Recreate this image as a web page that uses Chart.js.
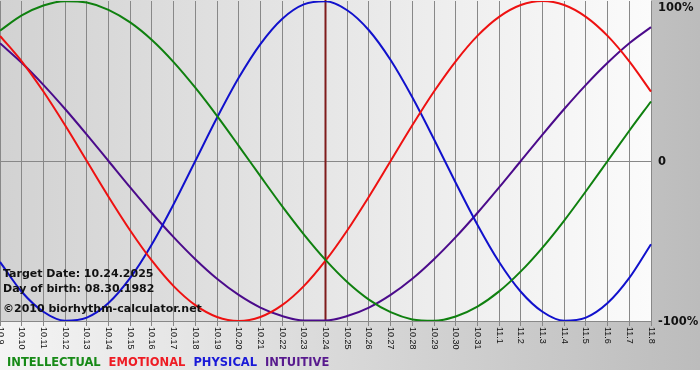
<!DOCTYPE html>
<html>
<head>
<meta charset="utf-8">
<script src="https://cdn.jsdelivr.net/npm/chart.js@4.4.1/dist/chart.umd.min.js"></script>
<style>
html, body { margin: 0; padding: 0; background: #fff; }
#wrap { width: 700px; height: 380px; }
</style>
</head>
<body>
<div id="wrap"><canvas id="bio"></canvas></div>
<script>
// dates shown on the x axis
const days = ['10.9','10.10','10.11','10.12','10.13','10.14','10.15','10.16','10.17','10.18',
  '10.19','10.20','10.21','10.22','10.23','10.24','10.25','10.26','10.27','10.28','10.29',
  '10.30','10.31','11.1','11.2','11.3','11.4','11.5','11.6','11.7','11.8'];

// cycle values in percent, one per day
const intellectual = [81.5, 91.0, 97.2, 99.9, 99.0, 94.5, 86.6, 75.6, 61.8, 45.8, 28.2, 9.5,
  -9.5, -28.2, -45.8, -61.8, -75.6, -86.6, -94.5, -99.0, -99.9, -97.2, -91.0, -81.5, -69.0,
  -54.1, -37.2, -18.9, 0, 18.9, 37.2];
const emotional = [78.2, 62.3, 43.4, 22.3, 0, -22.3, -43.4, -62.3, -78.2, -90.1, -97.5, -100,
  -97.5, -90.1, -78.2, -62.3, -43.4, -22.3, 0, 22.3, 43.4, 62.3, 78.2, 90.1, 97.5, 100,
  97.5, 90.1, 78.2, 62.3, 43.4];
const physical = [-63.1, -81.7, -94.2, -99.8, -97.9, -88.8, -73.1, -52.0, -27.0, 0, 27.0,
  52.0, 73.1, 88.8, 97.9, 99.8, 94.2, 81.7, 63.1, 39.8, 13.6, -13.6, -39.8, -63.1, -81.7,
  -94.2, -99.8, -97.9, -88.8, -73.1, -52.0];
const intuitive = [73.6, 61.4, 47.6, 32.5, 16.5, 0, -16.5, -32.5, -47.6, -61.4, -73.6, -83.7,
  -91.6, -96.9, -99.7, -99.7, -96.9, -91.6, -83.7, -73.6, -61.4, -47.6, -32.5, -16.5, 0,
  16.5, 32.5, 47.6, 61.4, 73.6, 83.7];

const seriesNames = ['INTELLECTUAL', 'EMOTIONAL', 'PHYSICAL', 'INTUITIVE'];
const seriesColors = ['#0f800f', '#ee1111', '#1111cc', '#4b0b8b'];
const legendColors = ['#178a17', '#ee1c24', '#1a1ad8', '#581a8e'];
const yTickValues = [100, 0, -100];
const yTickLabels = ['100%', '0', '-100%'];
const targetDay = '10.24';
const infoLines = ['Target Date: 10.24.2025', 'Day of birth: 08.30.1982', '\u00a92010 biorhythm-calculator.net'];

const boldFont = 'bold 11.5px "DejaVu Sans"';

// backgrounds: panel gradient + plot gradient
const bgPlugin = {
  id: 'bg',
  beforeDraw(chart) {
    const ctx = chart.ctx, a = chart.chartArea;
    ctx.save();
    ctx.fillStyle = '#fff';
    ctx.fillRect(0, 0, chart.width, chart.height);
    let g = ctx.createLinearGradient(0, 0, chart.width, 0);
    g.addColorStop(0, '#f4f4f4');
    g.addColorStop(1, '#bcbcbc');
    ctx.fillStyle = g;
    ctx.fillRect(0, 0, chart.width, 370);
    g = ctx.createLinearGradient(a.left, 0, a.right, 0);
    g.addColorStop(0, '#d2d2d2');
    g.addColorStop(1, '#fbfbfb');
    ctx.fillStyle = g;
    ctx.fillRect(a.left, a.top - 1, a.right - a.left, a.bottom - a.top + 1);
    ctx.restore();
  },
  beforeDatasetsDraw(chart) {
    // marker for the target date
    const ctx = chart.ctx, a = chart.chartArea;
    const x = chart.scales.x.getPixelForValue(days.indexOf(targetDay));
    ctx.save();
    ctx.strokeStyle = '#7f1c1c';
    ctx.lineWidth = 2;
    ctx.beginPath();
    ctx.moveTo(x, a.top - 1);
    ctx.lineTo(x, a.bottom);
    ctx.stroke();
    ctx.restore();
  },
  afterDraw(chart) {
    const ctx = chart.ctx, a = chart.chartArea;
    const xs = chart.scales.x, ys = chart.scales.y;
    ctx.save();
    ctx.fillStyle = '#111';
    // x labels, rotated clockwise
    ctx.font = '9px "Liberation Sans"';
    ctx.textAlign = 'left';
    ctx.textBaseline = 'middle';
    days.forEach((d, i) => {
      ctx.save();
      ctx.translate(xs.getPixelForValue(i), a.bottom + 6);
      ctx.rotate(Math.PI / 2);
      ctx.fillText(d, 0, 0);
      ctx.restore();
    });
    // y labels on the right
    ctx.font = boldFont;
    yTickValues.forEach((v, i) => {
      let y = ys.getPixelForValue(v);
      if (i === 0) y = y + 6;
      ctx.fillText(yTickLabels[i], a.right + 7, y + 1);
    });
    // info text
    ctx.font = 'bold 11px "DejaVu Sans"';
    ctx.textBaseline = 'alphabetic';
    ctx.fillText(infoLines[0], 3, 277);
    ctx.fillText(infoLines[1], 3, 292);
    ctx.fillText(infoLines[2], 3, 312);
    // legend
    ctx.font = boldFont;
    let lx = 7;
    seriesNames.forEach((n, i) => {
      ctx.fillStyle = legendColors[i];
      ctx.fillText(n, lx, 366);
      lx += ctx.measureText(n).width + 8;
    });
    ctx.restore();
  }
};

const ds = (label, data, color) => ({
  label: label,
  data: data,
  borderColor: color,
  backgroundColor: color,
  borderWidth: 2,
  pointRadius: 0,
  fill: false,
  cubicInterpolationMode: 'monotone'
});

const chart = new Chart('bio', {
  type: 'line',
  data: {
    labels: days,
    datasets: [
      ds(seriesNames[0], intellectual, seriesColors[0]),
      ds(seriesNames[1], emotional, seriesColors[1]),
      ds(seriesNames[2], physical, seriesColors[2]),
      ds(seriesNames[3], intuitive, seriesColors[3])
    ]
  },
  options: {
    responsive: true,
    maintainAspectRatio: false,
    animation: false,
    layout: { padding: { left: 0, top: 1, right: 49, bottom: 59 } },
    plugins: { legend: { display: false }, tooltip: { enabled: false } },
    scales: {
      x: {
        offset: false,
        ticks: { display: false },
        grid: { color: '#888', lineWidth: 1, tickLength: 5, drawTicks: true },
        border: { display: true, color: '#888' },
        afterFit: s => { s.height = 0; }
      },
      y: {
        position: 'right',
        min: -100,
        max: 100,
        afterBuildTicks: s => { s.ticks = yTickValues.map(v => ({ value: v })); },
        ticks: { display: false },
        grid: {
          drawTicks: false,
          color: c => (c.tick && c.tick.value === 0 ? '#888' : 'rgba(0,0,0,0)')
        },
        border: { display: false },
        afterFit: s => { s.width = 0; }
      }
    }
  },
  plugins: [bgPlugin]
});
</script>
</body>
</html>
